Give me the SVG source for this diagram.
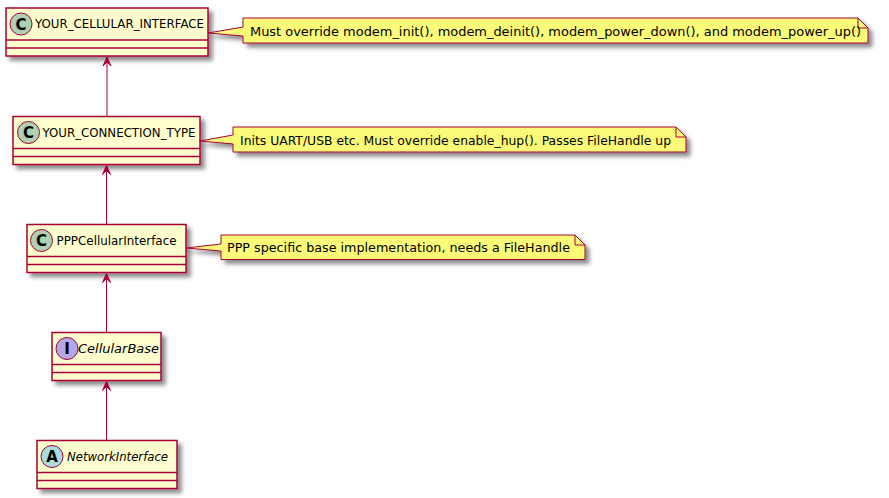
<svg xmlns="http://www.w3.org/2000/svg" width="889" height="498" viewBox="0 0 889 498">
<defs>
<filter id="sh" x="-1" y="-1" width="300%" height="300%">
<feGaussianBlur in="SourceAlpha" stdDeviation="2" result="b"/>
<feColorMatrix in="b" type="matrix" values="0 0 0 0 0 0 0 0 0 0 0 0 0 0 0 0 0 0 0.45 0" result="c"/>
<feOffset in="c" dx="4" dy="4" result="o"/>
<feMerge><feMergeNode in="o"/><feMergeNode in="SourceGraphic"/></feMerge>
</filter>
</defs>
<style>
.box{fill:#FEFECE;stroke:#A80036;stroke-width:1.5;filter:url(#sh)}
.sep{stroke:#A80036;stroke-width:1.5}
.cn{font-family:"DejaVu Sans",sans-serif;font-size:12px;fill:#000}
.it{font-style:italic}
.circ{stroke:#A80036;stroke-width:1}
.lt{font-family:"DejaVu Sans",sans-serif;font-size:15px;font-weight:bold;fill:#000;text-anchor:middle}
.note{fill:#FBFB77;stroke:#A80036;stroke-width:1;filter:url(#sh)}
.nf{fill:none;stroke:#A80036;stroke-width:1}
.nt{font-family:"DejaVu Sans",sans-serif;font-size:13px;fill:#000}
.edge{stroke:#A80036;stroke-width:1;fill:none}
.ah{fill:#A80036;stroke:#A80036;stroke-width:1}
</style>

<g id="YOUR_CELLULAR_INTERFACE">
<rect class="box" x="6" y="8" width="202" height="48"/>
<line class="sep" x1="6" y1="40" x2="208" y2="40"/>
<line class="sep" x1="6" y1="48" x2="208" y2="48"/>
<circle class="circ" cx="21" cy="24" r="11" fill="#ADD1B2"/>
<text class="lt" x="21" y="29.5">C</text>
<text class="cn" x="35" y="28" textLength="169" lengthAdjust="spacingAndGlyphs">YOUR_CELLULAR_INTERFACE</text>
</g>

<g id="YOUR_CONNECTION_TYPE">
<rect class="box" x="13" y="116.5" width="187" height="48"/>
<line class="sep" x1="13" y1="148.5" x2="200" y2="148.5"/>
<line class="sep" x1="13" y1="156.5" x2="200" y2="156.5"/>
<circle class="circ" cx="28.5" cy="132.5" r="11" fill="#ADD1B2"/>
<text class="lt" x="28.5" y="138">C</text>
<text class="cn" x="42.5" y="136.5" textLength="153" lengthAdjust="spacingAndGlyphs">YOUR_CONNECTION_TYPE</text>
</g>

<g id="PPPCellularInterface">
<rect class="box" x="27" y="224.5" width="159" height="48"/>
<line class="sep" x1="27" y1="256.5" x2="186" y2="256.5"/>
<line class="sep" x1="27" y1="264.5" x2="186" y2="264.5"/>
<circle class="circ" cx="41.5" cy="240.5" r="11" fill="#ADD1B2"/>
<text class="lt" x="41.5" y="246">C</text>
<text class="cn" x="56.5" y="244.5" textLength="120" lengthAdjust="spacingAndGlyphs">PPPCellularInterface</text>
</g>

<g id="CellularBase">
<rect class="box" x="52" y="332.5" width="109" height="48"/>
<line class="sep" x1="52" y1="364.5" x2="161" y2="364.5"/>
<line class="sep" x1="52" y1="372.5" x2="161" y2="372.5"/>
<circle class="circ" cx="67" cy="348.5" r="11" fill="#B4A7E5"/>
<text class="lt" x="67" y="354">I</text>
<text class="cn it" x="78" y="352.5" textLength="81" lengthAdjust="spacingAndGlyphs">CellularBase</text>
</g>

<g id="NetworkInterface">
<rect class="box" x="37" y="440.5" width="140" height="48"/>
<line class="sep" x1="37" y1="472.5" x2="177" y2="472.5"/>
<line class="sep" x1="37" y1="480.5" x2="177" y2="480.5"/>
<circle class="circ" cx="52" cy="456.5" r="11" fill="#A9DCDF"/>
<text class="lt" x="52" y="462">A</text>
<text class="cn it" x="67" y="460.5" textLength="101" lengthAdjust="spacingAndGlyphs">NetworkInterface</text>
</g>

<g id="note1">
<path class="note" d="M243,18 L858,18 L868,28 L868,43 L243,43 L243,36 L208,33 L243,27 Z"/>
<path class="nf" d="M858,18 L858,28 L868,28"/>
<text class="nt" x="250" y="36" textLength="611" lengthAdjust="spacingAndGlyphs">Must override modem_init(), modem_deinit(), modem_power_down(), and modem_power_up()</text>
</g>

<g id="note2">
<path class="note" d="M233,127 L676,127 L686,137 L686,152 L233,152 L233,144 L200,141 L233,135 Z"/>
<path class="nf" d="M676,127 L676,137 L686,137"/>
<text class="nt" x="240" y="145" textLength="431" lengthAdjust="spacingAndGlyphs">Inits UART/USB etc. Must override enable_hup(). Passes FileHandle up</text>
</g>

<g id="note3">
<path class="note" d="M221,235 L575,235 L585,245 L585,259.5 L221,259.5 L221,251 L186,248 L221,244 Z"/>
<path class="nf" d="M575,235 L575,245 L585,245"/>
<text class="nt" x="227" y="252" textLength="343" lengthAdjust="spacingAndGlyphs">PPP specific base implementation, needs a FileHandle</text>
</g>

<g id="connectors">
<line class="edge" x1="107" y1="57" x2="107" y2="116.5"/>
<polygon class="ah" points="107,57 103,66 107,62 111,66"/>
<line class="edge" x1="106.5" y1="165.5" x2="106.5" y2="224.5"/>
<polygon class="ah" points="106.5,165.5 102.5,174.5 106.5,170.5 110.5,174.5"/>
<line class="edge" x1="106.5" y1="273.5" x2="106.5" y2="332.5"/>
<polygon class="ah" points="106.5,273.5 102.5,282.5 106.5,278.5 110.5,282.5"/>
<line class="edge" x1="106.5" y1="381.5" x2="106.5" y2="440.5"/>
<polygon class="ah" points="106.5,381.5 102.5,390.5 106.5,386.5 110.5,390.5"/>
</g>
</svg>
